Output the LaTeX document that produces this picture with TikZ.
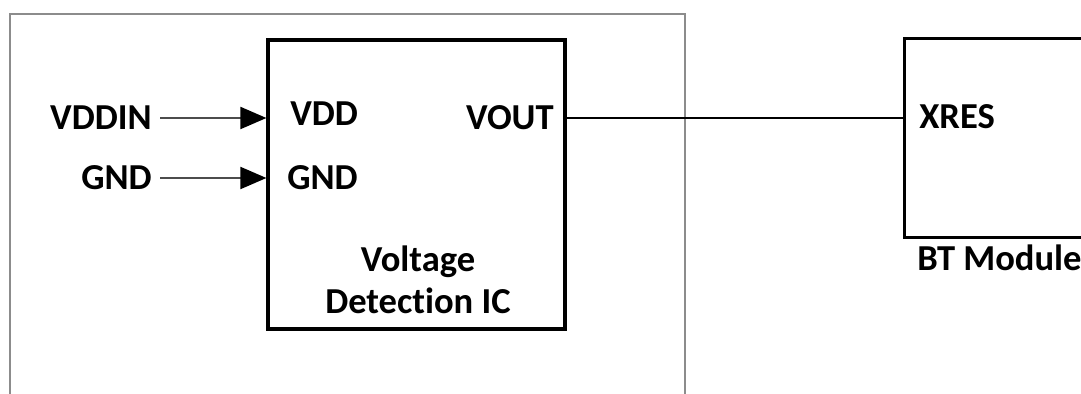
\documentclass[tikz,border=0pt]{standalone}
\usepackage{fontspec}
\setmainfont{Carlito}[Ligatures={NoCommon}]
\usetikzlibrary{arrows.meta}
\definecolor{framecol}{RGB}{140,140,140}
\definecolor{sigcol}{gray}{0.3}
\tikzset{
  lab/.style={font=\fontsize{26}{30}\selectfont\bfseries,text=black,inner sep=0pt},
  pinlab/.style={font=\fontsize{26}{30}\selectfont\bfseries,text=black,inner sep=0.2cm},
  blk/.style={draw=black,line width=2.2pt,fill=white,rectangle,inner sep=0pt},
  sig/.style={draw=sigcol,line width=1.4pt,-{Triangle[length=0.65cm,width=0.55cm,color=black]}},
  wire/.style={draw=black,line width=1.6pt},
}

\begin{document}
\begin{tikzpicture}[x=0.025cm,y=-0.025cm]
  \useasboundingbox (0,0) rectangle (1081,394);
  \clip (0,0) rectangle (1081,394);
  % outer board frame
  \draw[framecol,line width=1.4pt] (10,14) rectangle (685,420);
  % blocks
  \node[blk,minimum width=7.425cm,minimum height=7.225cm] (ic) at (416.5,184.5) {};
  \node[blk,anchor=north west,minimum width=6cm,minimum height=4.975cm] (bt) at (903,37) {};
  % pins of the detector
  \node[lab,anchor=west] (vdd) at (290,114) {VDD};
  \node[lab,anchor=west] (gndi) at (287,178) {GND};
  \node[lab,anchor=east] (vout) at (554,118) {VOUT};
  \node[lab,align=center] (ictxt) at (418,280) {Voltage\\Detection IC};
  % pins of the module
  \node[lab,anchor=west] (xres) at (919,117) {XRES};
  \node[lab,anchor=west] (btname) at (917,258) {BT Module};
  % inputs
  \node[pinlab,anchor=east] (vddin) at (160,118) {VDDIN};
  \node[pinlab,anchor=east] (gndin) at (160,178) {GND};
  \draw[sig] (vddin) -- (vddin -| ic.west);
  \draw[sig] (gndin) -- (gndin -| ic.west);
  % reset line
  \draw[wire] (ic.east |- vout) -- (bt.west |- vout);
\end{tikzpicture}
\end{document}
